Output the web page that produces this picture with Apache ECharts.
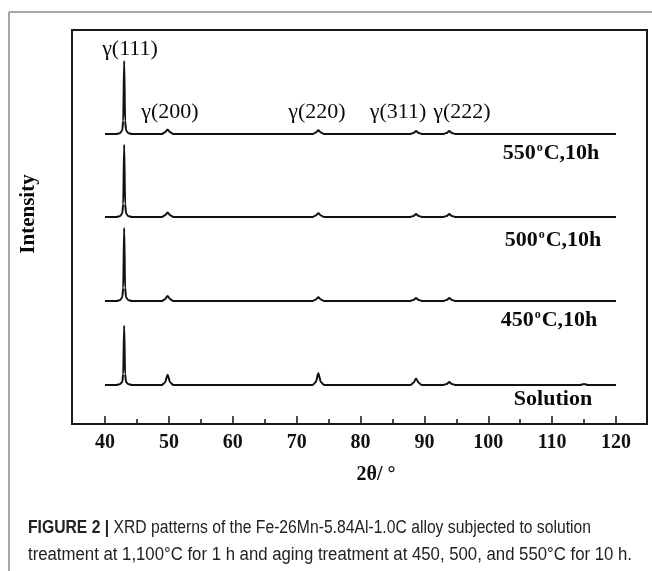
<!DOCTYPE html>
<html><head><meta charset="utf-8">
<script src="https://cdn.jsdelivr.net/npm/echarts@6/dist/echarts.min.js"></script>
<style>html,body{margin:0;padding:0;background:#fff}#c{width:652px;height:571px}</style>
</head><body><div id="c"></div>
<script>
// ---- data ----
const twoTheta = [40, 41.8, 42.4, 42.7, 42.85, 43.0, 43.15, 43.3, 43.6, 44.2,
  48.9, 49.4, 49.8, 50.2, 50.7,
  72.5, 73.0, 73.4, 73.8, 74.3,
  87.8, 88.3, 88.7, 89.1, 89.6,
  93.0, 93.5, 93.9, 94.3, 94.8,
  114.4, 115.0, 115.6, 120];
const int550 = [0,0,1.5,5,18,100,18,5,1.5,0, 0,2.5,6,2.5,0, 0,2,5,2,0, 0,1.5,4,1.5,0, 0,1.5,4,1.5,0, 0,0,0,0];
const int500 = [0,0,1.5,5,18,99,18,5,1.5,0, 0,2.5,6,2.5,0, 0,2,5,2,0, 0,1.5,4,1.5,0, 0,1.5,4,1.5,0, 0,0,0,0];
const int450 = [0,0,1.5,5,18,100,18,5,1.5,0, 0,2.5,7,2.5,0, 0,2,5,2,0, 0,1.5,4,1.5,0, 0,1.5,4,1.5,0, 0,0,0,0];
const intSol = [0,0,1.5,4,15,81,15,4,1.5,0, 0,3.5,14,3.5,0, 0,4,16,4,0, 0,3,9,3,0, 0,1.5,4,1.5,0, 0,1.5,0,0];
const seriesNames = ['550', '500', '450', 'Solution'];
const peakLabels = ['γ(111)', 'γ(200)', 'γ(220)', 'γ(311)', 'γ(222)'];
const xMin = 40, xMax = 120, xStep = 10;
const yTitle = 'Intensity';
const xTitle = '2θ/ °';
const captionBold = 'FIGURE 2 |';
const caption1 = ' XRD patterns of the Fe-26Mn-5.84Al-1.0C alloy subjected to solution';
const caption2 = 'treatment at 1,100°C for 1 h and aging treatment at 450, 500, and 550°C for 10 h.';

// ---- layout ----
const seriesData = [int550, int500, int450, intSol];
const baselines = [134, 217, 301, 385];
const peakH = 73;
const serif = '"Liberation Serif","Times New Roman",serif';
const sans = '"Liberation Sans", Arial, sans-serif';

const chart = echarts.init(document.getElementById('c'), null, {renderer: 'canvas'});

const grids = [
  {left: 72, right: 5, top: 30, bottom: 147, show: true, borderColor: '#1a1a1a', borderWidth: 2, backgroundColor: 'transparent'},
  {left: 105, right: 36, top: 30, bottom: 147}
];
const xAxes = [
  {gridIndex: 0, type: 'value', show: false, min: 0, max: 1},
  {gridIndex: 1, type: 'value', min: xMin, max: xMax, interval: xStep,
   axisLine: {show: false},
   axisTick: {show: true, inside: true, length: 8, lineStyle: {color: '#111', width: 1.5}},
   minorTick: {show: true, splitNumber: 2, length: 5, lineStyle: {color: '#111', width: 1.5}},
   splitLine: {show: false},
   axisLabel: {color: '#111', fontFamily: serif, fontWeight: 'bold', fontSize: 20, margin: 9}}
];
const yAxes = [
  {gridIndex: 0, type: 'value', show: false, min: 0, max: 1},
  {gridIndex: 1, type: 'value', show: false, min: 0, max: 1}
];
const series = [];
seriesData.forEach((arr, i) => {
  const gi = grids.length;
  grids.push({left: 105, right: 36, top: baselines[i] - peakH, height: peakH});
  xAxes.push({gridIndex: gi, type: 'value', show: false, min: xMin, max: xMax});
  yAxes.push({gridIndex: gi, type: 'value', show: false, min: 0, max: 100});
  series.push({
    name: seriesNames[i], type: 'line', xAxisIndex: gi, yAxisIndex: gi,
    data: twoTheta.map((x, k) => [x, arr[k]]),
    showSymbol: false, smooth: 0.25, smoothMonotone: 'x', clip: false,
    lineStyle: {color: '#111', width: 2}, animation: false, silent: true
  });
});

// text measure for caption
const capFont = 18;
const cv = document.createElement('canvas').getContext('2d');
cv.font = capFont + 'px ' + sans;
const w2 = cv.measureText(caption2).width;
const wc1 = cv.measureText(caption1).width;
cv.font = 'bold ' + capFont + 'px ' + sans;
const wb = cv.measureText(captionBold).width;
const capScale2 = 604 / w2;
const capScale1 = 563 / (wb + wc1);

function txt(text, x, y, opts) {
  return Object.assign({type: 'text', x: x, y: y, silent: true,
    style: Object.assign({text: text, fill: '#0a0a0a', font: '22px ' + serif, textAlign: 'center', textVerticalAlign: 'middle'}, opts || {})});
}
const tempLabel = (t) => t + '{s|o}{b|C,10h}';
const tempRich = {
  s: {fontFamily: serif, fontWeight: 'bold', fontSize: 12, fill: '#0a0a0a', verticalAlign: 'top', padding: [0, 1, 11, 1]},
  b: {fontFamily: serif, fontWeight: 'bold', fontSize: 22, fill: '#0a0a0a'}
};

const graphic = [
  {type: 'line', silent: true, shape: {x1: 9, y1: 12, x2: 652, y2: 12}, style: {stroke: '#8a8a8a', lineWidth: 1.5}},
  {type: 'line', silent: true, shape: {x1: 9, y1: 12, x2: 9, y2: 571}, style: {stroke: '#8a8a8a', lineWidth: 1.5}},
  txt(peakLabels[0], 130, 49),
  txt(peakLabels[1], 170, 112),
  txt(peakLabels[2], 317, 112),
  txt(peakLabels[3], 398, 112),
  txt(peakLabels[4], 462, 112),
  txt(tempLabel(seriesNames[0]), 551, 153, {font: 'bold 22px ' + serif, rich: tempRich}),
  txt(tempLabel(seriesNames[1]), 553, 240, {font: 'bold 22px ' + serif, rich: tempRich}),
  txt(tempLabel(seriesNames[2]), 549, 320, {font: 'bold 22px ' + serif, rich: tempRich}),
  txt(seriesNames[3], 553, 399, {font: 'bold 22px ' + serif}),
  txt(xTitle, 376, 475, {font: 'bold 20px ' + serif}),
  Object.assign(txt(yTitle, 0, 0, {font: 'bold 21px ' + serif}), {x: 29, y: 214, rotation: Math.PI / 2}),
  {type: 'text', x: 28, y: 528, scaleX: capScale1, silent: true,
   style: {text: '{bb|' + captionBold + '}' + caption1, font: capFont + 'px ' + sans, fill: '#222', textVerticalAlign: 'middle',
     rich: {bb: {fontWeight: 'bold', fontSize: capFont, fontFamily: sans, fill: '#222'}}}},
  {type: 'text', x: 28, y: 555, scaleX: capScale2, silent: true,
   style: {text: caption2, font: capFont + 'px ' + sans, fill: '#222', textVerticalAlign: 'middle'}}
];

chart.setOption({
  animation: false,
  backgroundColor: '#fff',
  grid: grids, xAxis: xAxes, yAxis: yAxes, series: series, graphic: graphic
});
</script></body></html>
